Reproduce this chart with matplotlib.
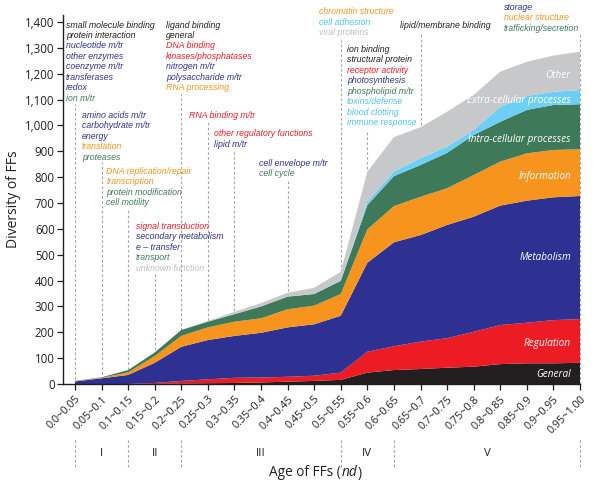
import matplotlib
matplotlib.use("Agg")
import matplotlib.pyplot as plt
import numpy as np

# ---------------- data ----------------
categories = ["0.0~0.05", "0.05~0.1", "0.1~0.15", "0.15~0.2", "0.2~0.25", "0.25~0.3",
              "0.3~0.35", "0.35~0.4", "0.4~0.45", "0.45~0.5", "0.5~0.55", "0.55~0.6",
              "0.6~0.65", "0.65~0.7", "0.7~0.75", "0.75~0.8", "0.8~0.85", "0.85~0.9",
              "0.9~0.95", "0.95~1.00"]

general = [0, 0, 0, 0, 2, 3, 4, 6, 9, 12, 16, 44, 54, 58, 63, 67, 77, 80, 80, 82]
regulation = [0, 0, 0, 4, 10, 15, 20, 19, 19, 20, 28, 81, 92, 106, 114, 135, 151, 157, 167, 169]
metabolism = [10, 22, 35, 78, 132, 152, 162, 173, 191, 199, 220, 344, 402, 412, 438, 445, 462, 472, 475, 476]
information = [1, 2, 10, 26, 42, 49, 55, 56, 70, 72, 84, 129, 140, 148, 142, 161, 170, 183, 183, 181]
intra_cellular = [1, 2, 9, 14, 23, 22, 29, 46, 49, 45, 51, 94, 116, 123, 137, 155, 154, 168, 174, 174]
extra_cellular = [0, 0, 0, 0, 0, 0, 0, 0, 0, 0, 1, 13, 18, 26, 24, 19, 58, 54, 51, 55]
other = [0, 0, 0, 0, 0, 3, 9, 13, 15, 24, 34, 116, 133, 120, 135, 136, 136, 132, 140, 148]

layer_names = ["General", "Regulation", "Metabolism", "Information",
               "Intra-cellular processes", "Extra-cellular processes", "Other"]

periods = ["I", "II", "III", "IV", "V"]
period_bounds = [0, 2, 4, 10, 12, 19]

yticks = list(range(0, 1401, 100))

# ---------------- style ----------------
C_GEN = "#231f20"
C_REG = "#ed1c24"
C_MET = "#2e3192"
C_INF = "#f7941d"
C_INT = "#3e7a5a"
C_EXT = "#6dcff6"
C_OTH = "#c7c8ca"
layer_colors = [C_GEN, C_REG, C_MET, C_INF, C_INT, C_EXT, C_OTH]

DK = "#231f20"
BL = "#2e3192"
RD = "#ed1c24"
OR = "#f7941d"
GR = "#3e7a5a"
LB = "#4fc3f0"
LG = "#bcbec0"

ann_font = "Liberation Sans"
ax_font = "Open Sans"

# annotation groups: (category index of dashed line, text-left px, first line y px, dash start y px, lines)
groups = [
    (0, 66, 25.0, 104, [("small molecule binding", DK), ("protein interaction", DK),
                        ("nucleotide m/tr", BL), ("other enzymes", BL), ("coenzyme m/tr", BL),
                        ("transferases", BL), ("redox", BL), ("ion m/tr", GR)]),
    (1, 82, 115.5, 162, [("amino acids m/tr", BL), ("carbohydrate m/tr", BL), ("energy", BL),
                         ("translation", OR), ("proteases", GR)]),
    (2, 106.5, 171.5, 208, [("DNA replication/repair", OR), ("transcription", OR),
                            ("protein modification", GR), ("cell motility", GR)]),
    (3, 136, 226.5, 273, [("signal transduction", RD), ("secondary metabolism", BL),
                          ("e \u2013 transfer", BL), ("transport", GR), ("unknown function", LG)]),
    (4, 166, 25.0, 94, [("ligand binding", DK), ("general", DK), ("DNA binding", RD),
                        ("kinases/phosphatases", RD), ("nitrogen m/tr", BL),
                        ("polysaccharide m/tr", BL), ("RNA processing", OR)]),
    (5, 189, 115.7, 122, [("RNA binding m/tr", RD)]),
    (6, 214, 134.0, 151, [("other regulatory functions", RD), ("lipid m/tr", BL)]),
    (8, 259, 163.3, 180, [("cell envelope m/tr", BL), ("cell cycle", GR)]),
    (10, 319, 11.7, 40, [("chromatin structure", OR), ("cell adhesion", LB), ("viral proteins", LG)]),
    (11, 347, 49.3, 130, [("ion binding", DK), ("structural protein", DK), ("receptor activity", RD),
                          ("photosynthesis", BL), ("phospholipid m/tr", GR), ("toxins/defense", LB),
                          ("blood clotting", LB), ("immune response", LB)]),
    (13, 400, 25.7, 33, [("lipid/membrane binding", DK)]),
    (19, 504, 7.3, 35, [("storage", BL), ("nuclear structure", OR), ("trafficking/secretion", GR)]),
]

# ---------------- figure ----------------
W, H = 600, 482
fig = plt.figure(figsize=(6.0, 4.82), dpi=100)
ax_left, ax_right, ax_bottom, ax_top = 63, 580, 384, 15
ax = fig.add_axes([ax_left / W, 1 - ax_bottom / H, (ax_right - ax_left) / W, (ax_bottom - ax_top) / H])

x = np.arange(len(categories))
x_first_px = 75.0
dx_px = (580.0 - 75.0) / (len(categories) - 1)
xmin = (ax_left - x_first_px) / dx_px
ax.set_xlim(xmin, len(categories) - 1)
ymax = 1427
ax.set_ylim(0, ymax)
ypx = (ax_bottom - ax_top) / ymax


def px2x(px):
    return (px - x_first_px) / dx_px


def px2y(py):
    return (ax_bottom - py) / ypx


ax.stackplot(x, general, regulation, metabolism, information, intra_cellular,
             extra_cellular, other, colors=layer_colors, linewidth=0, zorder=3)

# dashed guide lines and annotation text
line_step_px = 10.45
for idx, left_px, top_px, dash_px, lines in groups:
    ax.plot([idx, idx], [0, px2y(dash_px)], color="#9d9fa2", lw=0.8,
            linestyle=(0, (2.2, 2.2)), zorder=1, clip_on=False)
    for k, (txt, col) in enumerate(lines):
        ax.text(px2x(left_px), px2y(top_px + k * line_step_px), txt, color=col,
                fontsize=6.3, fontstyle="italic", family=ann_font,
                ha="left", va="center", clip_on=False, zorder=5)

# labels inside the areas
label_py = [374.3, 343.3, 257.7, 176.0, 139.3, 100.0, 75.0]
for name, py in zip(layer_names, label_py):
    ax.text(px2x(571), px2y(py), name, color="white", fontsize=7.2,
            fontstyle="italic", family=ax_font, ha="right", va="center", zorder=6)

# axes styling
for s in ["top", "right"]:
    ax.spines[s].set_visible(False)
for s in ["left", "bottom"]:
    ax.spines[s].set_color("#231f20")
    ax.spines[s].set_linewidth(1.0)
ax.spines["bottom"].set_zorder(7)

ax.set_yticks(yticks)
ax.set_yticklabels([f"{v:,}" for v in yticks], family=ax_font, fontsize=8.3, color="#231f20")
ax.set_xticks(x)
ax.set_xticklabels(categories, rotation=45, ha="right", va="top", rotation_mode="anchor",
                   family=ax_font, fontsize=7.8, color="#231f20")
ax.tick_params(axis="both", direction="out", length=4, width=0.9, color="#231f20")
ax.tick_params(axis="x", pad=3)
ax.tick_params(axis="y", pad=2)

ax.set_ylabel("Diversity of FFs", family=ax_font, fontsize=10, color="#231f20", labelpad=3)

# period markers below the axis
for b in period_bounds:
    ax.plot([b, b], [px2y(440), px2y(467)], color="#9d9fa2", lw=0.8,
            linestyle=(0, (2.2, 2.2)), clip_on=False, zorder=1)
for name, a, b in zip(periods, period_bounds[:-1], period_bounds[1:]):
    ax.text((a + b) / 2, px2y(453.5), name, family=ax_font, fontsize=8.2,
            color="#231f20", ha="center", va="center", clip_on=False)

# x-axis title with italic "nd", centred as a whole
parts = [("Age of FFs (", "normal"), ("nd", "italic"), (")", "normal")]
renderer = fig.canvas.get_renderer()
objs = []
for txt, sty in parts:
    t = fig.text(0, 1 - 473 / H, txt, family=ax_font, fontsize=9.8, color="#231f20",
                 ha="left", va="center", fontstyle=sty)
    objs.append(t)
widths = [o.get_window_extent(renderer).width for o in objs]
total = sum(widths)
cur = 315.0 - total / 2
for o, w in zip(objs, widths):
    o.set_x(cur / W)
    cur += w + 0.5

fig.savefig("out.png", dpi=100)
